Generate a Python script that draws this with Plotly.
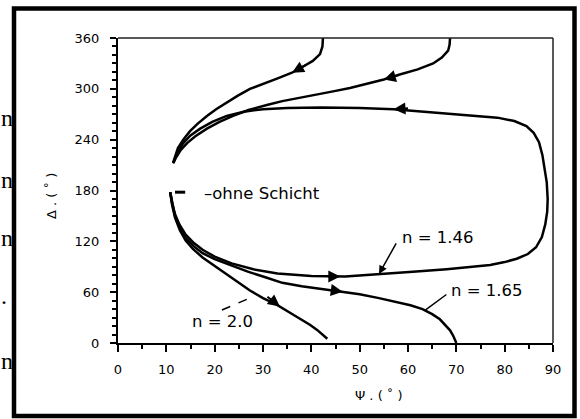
import plotly.graph_objects as go

# ---------------- data (Psi, Delta in degrees) ----------------
n146_psi = [10.8, 11.2, 11.8, 12.7, 14.0, 15.7, 17.5, 20.0, 23.5, 28.0, 33.0, 40.0, 47.0, 54.0, 61.0,
            68.0, 73.0, 77.0, 80.0, 82.5, 84.8, 86.5, 87.7, 88.4, 88.8, 88.9, 88.7, 88.3, 87.8, 87.1,
            86.0, 84.5, 82.0, 78.5, 72.0, 65.0, 57.0, 50.0, 42.0, 35.0, 30.0, 26.0, 22.5, 19.5, 17.0,
            15.0, 13.5, 12.3, 11.5]
n146_delta = [178, 165, 152, 140, 128, 118, 110, 102, 94, 87, 82, 79, 78.5, 81, 84,
              87, 89.5, 92, 95.5, 99.5, 105, 113, 125, 140, 155, 170, 190, 205, 222, 237,
              248, 256, 262, 266, 269, 272, 276, 277.5, 278, 277.5, 276, 273, 268, 261, 253,
              245, 236, 225, 213]

n165_lower_psi = [10.8, 11.2, 11.8, 12.7, 14.0, 15.7, 17.5, 20.0, 23.8, 27.0, 30.8, 34.0, 38.0, 42.0,
                  46.0, 50.0, 54.0, 57.7, 60.5, 63.0, 65.0, 66.6, 67.8, 68.7, 69.4, 69.8, 70.0]
n165_lower_delta = [178, 165, 150, 137, 124, 114, 106, 99, 91, 84, 77, 71, 67, 64,
                    61, 57.5, 53, 48.5, 44.5, 40, 34, 28, 21, 15, 8, 3, 0]
n165_upper_psi = [68.7, 68.6, 68.3, 67.0, 65.2, 62.0, 58.3, 55.0, 51.5, 48.0, 44.5, 41.0, 37.7, 34.0,
                  30.8, 27.0, 23.8, 21.0, 18.4, 16.0, 14.3, 13.0, 12.0, 11.4]
n165_upper_delta = [360, 352, 345, 337, 330, 323, 317, 311, 306, 301, 297, 293, 290, 285.5,
                    281, 275, 268, 261, 253, 244, 236, 228, 219, 212]

n20_lower_psi = [10.8, 11.2, 11.8, 12.8, 14.0, 15.5, 17.5, 20.0, 22.5, 25.0, 27.3, 30.0, 32.9, 35.5,
                 37.7, 39.7, 41.2, 42.4, 43.3]
n20_lower_delta = [178, 163, 148, 133, 121, 111, 101, 91, 82, 72, 62, 53, 45, 36,
                   28.5, 21.5, 15.5, 10, 5]
n20_upper_psi = [42.4, 42.3, 41.8, 40.3, 38.5, 36.0, 32.9, 30.0, 27.3, 24.8, 22.5, 20.3, 18.4, 16.5,
                 14.9, 13.5, 12.4, 11.8, 11.4]
n20_upper_delta = [360, 350, 341, 333, 327, 319, 312, 306, 300, 292, 284, 276, 268, 259,
                   250, 240, 230, 221, 213]

x_ticks = [0, 10, 20, 30, 40, 50, 60, 70, 80, 90]
y_ticks = [0, 60, 120, 180, 240, 300, 360]

# ---------------- figure ----------------
W, H = 580, 419
L, R, T, B = 118, 27, 38, 76
pw, ph = W - L - R, H - T - B


def px(xp):
    return (xp - L) / pw


def py(yp):
    return (H - B - yp) / ph


fig = go.Figure()
line = dict(color="black", width=2.5)
for xs, ys in [(n146_psi, n146_delta), (n165_lower_psi, n165_lower_delta),
               (n165_upper_psi, n165_upper_delta), (n20_lower_psi, n20_lower_delta),
               (n20_upper_psi, n20_upper_delta)]:
    fig.add_trace(go.Scatter(x=xs, y=ys, mode="lines", line=line, showlegend=False,
                             hoverinfo="skip"))

font_ax = dict(family="DejaVu Sans", size=13, color="black")
fig.update_layout(
    width=W, height=H, margin=dict(l=L, r=R, t=T, b=B),
    paper_bgcolor="white", plot_bgcolor="white", showlegend=False,
    xaxis=dict(range=[0, 90], tickmode="array", tickvals=x_ticks,
               ticktext=[str(v) for v in x_ticks], ticks="outside", ticklen=7, tickwidth=2,
               tickcolor="black", minor=dict(dtick=5, tick0=0, ticks="outside", ticklen=4,
                                             tickwidth=1.5, tickcolor="black"),
               showline=True, linewidth=2, linecolor="black", showgrid=False, zeroline=False,
               tickfont=font_ax, ticklabelstandoff=6),
    yaxis=dict(range=[0, 360], tickmode="array", tickvals=y_ticks,
               ticktext=[str(v) for v in y_ticks], ticks="outside", ticklen=6, tickwidth=2,
               tickcolor="black", minor=dict(dtick=10, tick0=0, ticks="outside", ticklen=4,
                                             tickwidth=1.5, tickcolor="black"),
               showline=True, linewidth=2, linecolor="black", showgrid=False, zeroline=False,
               tickfont=font_ax, ticklabelstandoff=8),
)

shapes = [
    # top and right frame of plot
    dict(type="line", xref="paper", yref="paper", x0=0, y0=1, x1=1, y1=1,
         line=dict(color="#222", width=1.5)),
    dict(type="line", xref="paper", yref="paper", x0=1, y0=0, x1=1, y1=1,
         line=dict(color="#222", width=1.5)),
    # outer black border
    dict(type="rect", xref="paper", yref="paper", x0=px(14), x1=px(574.5), y0=py(416),
         y1=py(8.5), line=dict(color="black", width=4.5)),
    # bare substrate marker dash
    dict(type="line", xref="x", yref="y", x0=11.8, y0=178, x1=13.9, y1=178,
         line=dict(color="black", width=3)),
    # dashed leader for n = 2.0
    dict(type="line", xref="x", yref="y", x0=21.5, y0=39, x1=27.7, y1=54,
         line=dict(color="black", width=1.5, dash="dash")),
]
fig.update_layout(shapes=shapes)

lab_font = dict(family="DejaVu Sans", size=16.5, color="black")
ann = []
# direction arrows on curves
for (xt, yt, ax, ay) in [(36, 319, 16, -9), (55, 311, 17, -5), (57, 276, 16, -1),
                         (33.5, 43, -14, -11), (46, 78.5, -14, 0), (46.5, 60.5, -14, -2)]:
    ann.append(dict(x=xt, y=yt, xref="x", yref="y", ax=ax, ay=ay, text="", showarrow=True,
                    arrowhead=2, arrowsize=1.2, arrowwidth=2, arrowcolor="black"))
# leaders
ann.append(dict(x=54, y=81.5, xref="x", yref="y", ax=18, ay=-32, text="", showarrow=True,
                arrowhead=2, arrowsize=1.1, arrowwidth=1.5, arrowcolor="black"))
ann.append(dict(x=63.5, y=38.5, xref="x", yref="y", ax=23, ay=-17, text="", showarrow=True,
                arrowhead=0, arrowwidth=1.5, arrowcolor="black"))
# labels
ann.append(dict(x=66.2, y=125, xref="x", yref="y", text="n = 1.46", showarrow=False,
                font=lab_font))
ann.append(dict(x=76.4, y=61.4, xref="x", yref="y", text="n = 1.65", showarrow=False,
                font=lab_font))
ann.append(dict(x=21.7, y=24.8, xref="x", yref="y", text="n = 2.0", showarrow=False,
                font=lab_font))
ann.append(dict(x=17.4, y=177, xref="x", yref="y", text="–ohne Schicht", showarrow=False,
                xanchor="left", yanchor="middle",
                font=dict(family="DejaVu Sans", size=16.5, color="black")))
# axis titles
ann.append(dict(x=px(379), y=py(395), xref="paper", yref="paper", text="Ψ . ( ˚ )",
                xanchor="center", yanchor="middle", showarrow=False, font=font_ax))
ann.append(dict(x=px(51), y=py(196), xref="paper", yref="paper", text="Δ . ( ˚ )",
                xanchor="center", yanchor="middle", textangle=-90, showarrow=False,
                font=font_ax))
# page text fragments outside the frame
serif = dict(family="Liberation Serif", size=24, color="black")
for yy in [118, 180, 238, 361]:
    ann.append(dict(x=px(0), y=py(yy), xref="paper", yref="paper", text="n", xanchor="left",
                    yanchor="middle", borderpad=0, showarrow=False, font=serif))
ann.append(dict(x=px(0), y=py(296), xref="paper", yref="paper", text=".", xanchor="left",
                yanchor="middle", borderpad=0, showarrow=False, font=serif))
fig.update_layout(annotations=ann)

fig.write_html("out.html")
